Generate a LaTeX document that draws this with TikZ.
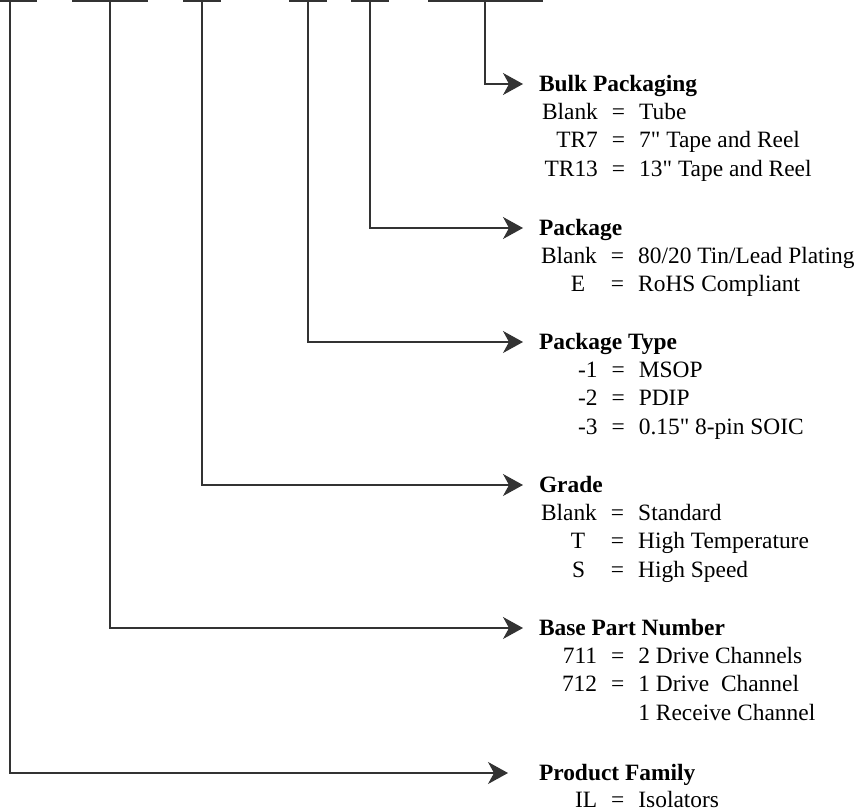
\documentclass[tikz,border=0pt]{standalone}
\usepackage{fontspec}
\setmainfont{Liberation Serif}
\newfontfamily\rawfont{Liberation Serif}[Ligatures=ResetAll]
\usetikzlibrary{arrows.meta,positioning}

\begin{document}
\begin{tikzpicture}[x=1bp, y=-1bp, line width=1.2bp,
  font=\fontsize{23.5}{28.5}\selectfont,
  every node/.style={inner sep=0pt, outer sep=0pt},
  lead/.style={draw=black!80, -{Stealth[length=20bp, width=22bp, inset=6bp]}},
  hdr/.style={anchor=base west, font=\fontsize{23.5}{28.5}\selectfont\bfseries},
  items/.style={anchor=base west}]
\useasboundingbox (0,0) rectangle (859,812);

% Part number fields
\draw[black!80] (0,1) -- (37,1);
\draw[black!80] (72,1) -- (148,1);
\draw[black!80] (183,1) -- (221,1);
\draw[black!80] (289,1) -- (327,1);
\draw[black!80] (351,1) -- (389,1);
\draw[black!80] (428,1) -- (543,1);

\coordinate (f1) at (10,1);
\coordinate (f2) at (110,1);
\coordinate (f3) at (202,1);
\coordinate (f4) at (308,1);
\coordinate (f5) at (370,1);
\coordinate (f6) at (485,1);

% Arrow ends
\coordinate (e6) at (523,84);
\coordinate (e5) at (523,228);
\coordinate (e4) at (523,342);
\coordinate (e3) at (523,485);
\coordinate (e2) at (523,628);
\coordinate (e1) at (508,773);

% Headings
\node[hdr] (bulk) at ([shift={(16,7)}]e6) {Bulk Packaging};
\node[hdr] (pkg) at ([shift={(16,7)}]e5) {Package};
\node[hdr] (ptype) at ([shift={(16,7)}]e4) {Package Type};
\node[hdr] (grade) at ([shift={(16,7)}]e3) {Grade};
\node[hdr] (base) at ([shift={(16,7)}]e2) {Base Part Number};
\node[hdr] (family) at ([shift={(31,7)}]e1) {Product Family};

% Codes (right edge of the code column at x=597)
\newcommand{\codes}[1]{\begin{tabular}[t]{@{}r@{\hspace{.6em}=\hspace{.6em}}l@{}}#1\end{tabular}}
\newcommand{\inch}{{\rawfont"}}
\node[items] (bulkv) at ([shift={(3,28.5)}]bulk.base west)
  {\codes{Blank & Tube\\ TR7 & 7\inch{} Tape and Reel\\ TR13 & 13\inch{} Tape and Reel}};
\node[items] (pkgv) at ([shift={(2,28.5)}]pkg.base west)
  {\codes{Blank & 80/20 Tin/Lead Plating\\ E\hspace{.5em} & RoHS Compliant}};
\node[items] (ptypev) at ([shift={(39,28.5)}]ptype.base west)
  {\codes{-1 & MSOP\\ -2 & PDIP\\ -3 & 0.15\inch{} 8-pin SOIC}};
\node[items] (gradev) at ([shift={(2,28.5)}]grade.base west)
  {\codes{Blank & Standard\\ T\hspace{.5em} & High Temperature\\ S\hspace{.5em} & High Speed}};
\node[items] (basev) at ([shift={(23,28.5)}]base.base west)
  {\codes{711 & 2 Drive Channels\\ 712 & 1 Drive~ Channel\\
   \multicolumn{1}{@{}r@{\hspace{.6em}\phantom{=}\hspace{.6em}}}{} & 1 Receive Channel}};
\node[items] (familyv) at ([shift={(36,27)}]family.base west)
  {\codes{IL & Isolators}};

% Leaders
\draw[lead] (f6) |- (e6);
\draw[lead] (f5) |- (e5);
\draw[lead] (f4) |- (e4);
\draw[lead] (f3) |- (e3);
\draw[lead] (f2) |- (e2);
\draw[lead] (f1) |- (e1);

\end{tikzpicture}
\end{document}
